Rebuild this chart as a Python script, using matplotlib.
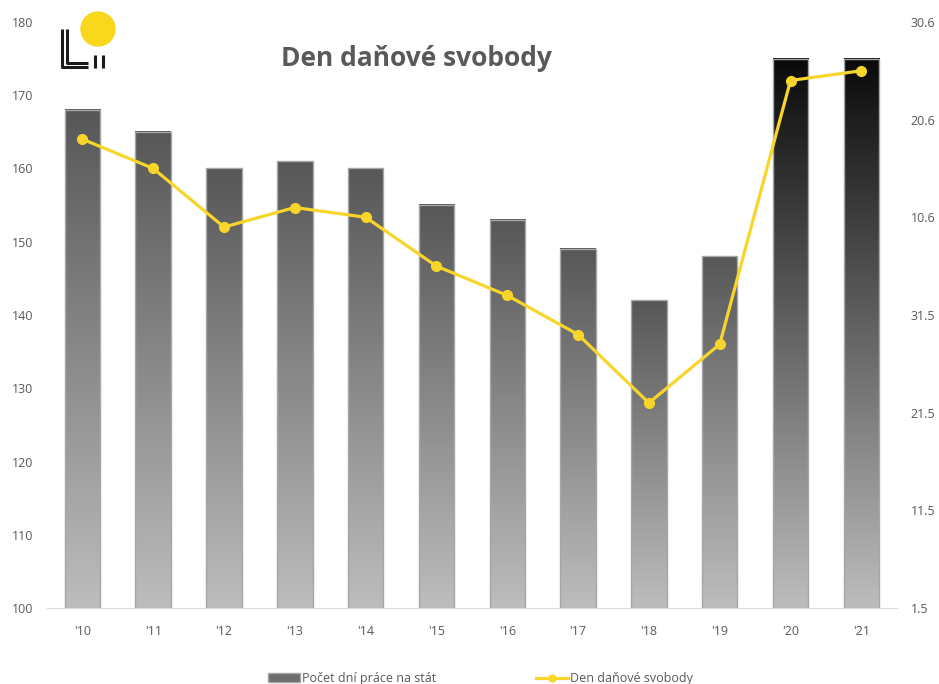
import datetime as dt
import numpy as np
import matplotlib.pyplot as plt
from matplotlib.colors import LinearSegmentedColormap
from matplotlib.patches import Patch, Circle
from matplotlib.lines import Line2D

plt.rcParams['font.family'] = ['Open Sans', 'DejaVu Sans']

# Years and number of days worked for the state (left axis)
years = ["'10", "'11", "'12", "'13", "'14", "'15", "'16", "'17", "'18", "'19", "'20", "'21"]
work_days = [168, 165, 160, 161, 160, 155, 153, 149, 142, 148, 175, 175]
# Tax freedom day (right axis), as day.month
freedom_day = ["18.6.", "15.6.", "9.6.", "11.6.", "10.6.", "5.6.", "2.6.",
               "29.5.", "22.5.", "28.5.", "24.6.", "25.6."]
# Right axis tick labels (every 10 days from 1 May)
right_ticks = ["1.5", "11.5", "21.5", "31.5", "10.6", "20.6", "30.6"]

GREY_TEXT = "#595959"
YELLOW = "#f7d52a"


def days_from_may1(s):
    d, m = [int(p) for p in s.strip(".").split(".")]
    return (dt.date(2021, m, d) - dt.date(2021, 5, 1)).days


def main():
    fig = plt.figure(figsize=(9.39, 6.84), dpi=100)
    ax = fig.add_axes([0.050, 0.111, 0.905, 0.857])
    ax2 = ax.twinx()

    x = np.arange(len(years))
    w = 0.5
    grad = np.linspace(0, 1, 256).reshape(-1, 1)
    for xi, v in zip(x, work_days):
        top = "#0a0a0a" if v >= 170 else "#575757"
        cmap = LinearSegmentedColormap.from_list("g", ["#bdbdbd", top])
        ax.imshow(grad, extent=(xi - w / 2, xi + w / 2, 100, v), origin="lower",
                  cmap=cmap, aspect="auto", zorder=2)
    ax.bar(x, np.array(work_days) - 100, bottom=100, width=w, facecolor="none",
           edgecolor="#a6a6a6", linewidth=1.0, zorder=3)

    ax.set_xlim(-0.5, len(years) - 0.5)
    ax.set_ylim(100, 180)
    ax.set_yticks(range(100, 181, 10))
    ax.set_xticks(x, years)
    for s in ["top", "right", "left"]:
        ax.spines[s].set_visible(False)
        ax2.spines[s].set_visible(False)
    ax2.spines["bottom"].set_visible(False)
    ax.spines["bottom"].set_color("#d9d9d9")
    ax.tick_params(axis="both", length=0, labelsize=9, colors=GREY_TEXT)
    ax.tick_params(axis="x", pad=12)
    ax.tick_params(axis="y", pad=10)

    line_vals = [days_from_may1(s) for s in freedom_day]
    ax2.plot(x, line_vals, color=YELLOW, lw=2.3, marker="o", ms=7, zorder=5)
    ax2.set_ylim(0, 60)
    ax2.set_yticks(range(0, 61, 10), right_ticks)
    ax2.tick_params(axis="y", length=0, labelsize=9, colors=GREY_TEXT, pad=10)

    fig.text(0.443, 0.915, "Den daňové svobody", ha="center", va="center",
             fontsize=19, fontweight="bold", color=GREY_TEXT)

    # logo
    la = fig.add_axes([0, 0, 1, 1], zorder=10)
    la.set_xlim(0, 939)
    la.set_ylim(684, 0)
    la.axis("off")
    la.add_patch(Circle((98, 29), 17, color="#f9d71c"))
    k = dict(color="#1a1a1a", lw=2.2, solid_capstyle="butt")
    la.plot([62, 62, 88], [29, 67, 67], **k)
    la.plot([67, 67, 88], [29, 63, 63], **k)
    la.plot([95, 95], [55, 68], **k)
    la.plot([103, 103], [55, 68], **k)

    handles = [Patch(facecolor="#6e6e6e", edgecolor="#a6a6a6"),
               Line2D([], [], color=YELLOW, lw=2.3, marker="o", ms=5)]
    fig.legend(handles, ["Počet dní práce na stát", "Den daňové svobody"],
               loc="lower center", bbox_to_anchor=(0.512, -0.018), ncol=2,
               frameon=False, fontsize=9, labelcolor=GREY_TEXT,
               handlelength=2.5, handletextpad=0.2, columnspacing=8)

    fig.savefig("out.png", dpi=100)


if __name__ == '__main__':
    main()
